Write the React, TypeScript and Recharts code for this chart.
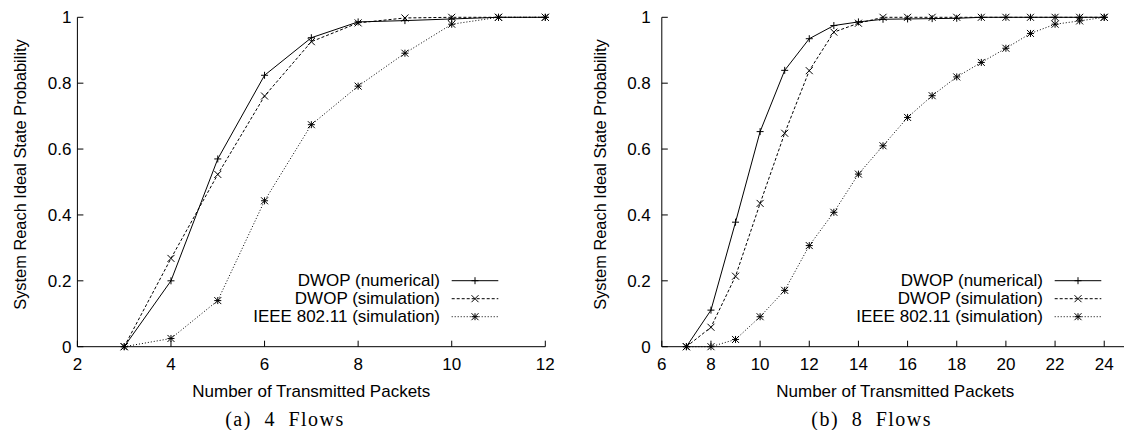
import React from 'react';
import { LineChart, Line, XAxis, YAxis, Legend } from 'recharts';

// (a) 4 flows
const flows4X = [3, 4, 5, 6, 7, 8, 9, 10, 11, 12];
const flows4Numerical = [0, 0.2, 0.57, 0.824, 0.938, 0.986, 0.99, 0.995, 1, 1];
const flows4Simulation = [0, 0.268, 0.523, 0.761, 0.926, 0.983, 0.998, 1, 1, 1];
const flows4Ieee = [0, 0.025, 0.14, 0.443, 0.674, 0.791, 0.891, 0.979, 1, 1];
const flows4Ticks = [2, 4, 6, 8, 10, 12];

// (b) 8 flows
const flows8X = [7, 8, 9, 10, 11, 12, 13, 14, 15, 16, 17, 18, 19, 20, 21, 22, 23, 24];
const flows8Numerical = [0, 0.111, 0.378, 0.653, 0.839, 0.935, 0.975, 0.986, 0.994, 0.995, 0.996, 0.997, 1, 1, 1, 1, 1, 1];
const flows8Simulation = [0, 0.059, 0.214, 0.435, 0.648, 0.838, 0.955, 0.982, 1, 1, 1, 1, 1, 1, 1, 1, 1, 1];
const flows8Ieee = [0, 0, 0.022, 0.091, 0.171, 0.307, 0.408, 0.524, 0.61, 0.696, 0.762, 0.819, 0.863, 0.906, 0.951, 0.979, 0.989, 1];
const flows8Ticks = [6, 8, 10, 12, 14, 16, 18, 20, 22, 24];

const seriesNames = ['DWOP (numerical)', 'DWOP (simulation)', 'IEEE 802.11 (simulation)'];
const yTicks = [0, 0.2, 0.4, 0.6, 0.8, 1];

const SANS = '"Liberation Sans", Arial, Helvetica, sans-serif';
const SERIF = '"Liberation Serif", "Times New Roman", serif';

const styles = [
  { dash: undefined, marker: 'plus' },
  { dash: '3 2', marker: 'cross' },
  { dash: '1 2', marker: 'star' },
];

const markerPath = (kind: string, cx: number, cy: number, s = 3.5) => {
  const plus = `M${cx - s},${cy}H${cx + s}M${cx},${cy - s}V${cy + s}`;
  const cross = `M${cx - s},${cy - s}L${cx + s},${cy + s}M${cx - s},${cy + s}L${cx + s},${cy - s}`;
  if (kind === 'plus') return plus;
  if (kind === 'cross') return cross;
  return plus + cross;
};

const makeDot = (kind: string) => (p: any) => {
  if (p.cx == null || p.cy == null) return <g key={`${kind}-${p.index}`} />;
  return (
    <path
      key={`${kind}-${p.index}`}
      d={markerPath(kind, p.cx, p.cy)}
      stroke="#000"
      strokeWidth={1}
      fill="none"
    />
  );
};

// legend text is right-aligned at x=220 inside its own box
const LegendBox = ({ payload }: any) => (
  <svg width={300} height={56} style={{ display: 'block' }}>
    {(payload || []).map((entry: any, i: number) => {
      const y = 10.7 + i * 18;
      return (
        <g key={entry.value}>
          <text x={220} y={y} textAnchor="end" dominantBaseline="central" fontSize={17} fontFamily={SANS} fill="#000">
            {entry.value}
          </text>
          <line x1={231.7} x2={278.3} y1={y} y2={y} stroke="#000" strokeWidth={1} strokeDasharray={styles[i].dash} />
          <path d={markerPath(styles[i].marker, 255, y)} stroke="#000" strokeWidth={1} fill="none" />
        </g>
      );
    })}
  </svg>
);

type PanelProps = {
  xs: number[];
  series: number[][];
  xTicks: number[];
  xDomain: [number, number];
  width: number;
  yAxisWidth: number;
  marginRight: number;
  yTickMargin: number;
  yLabelX: number;
  xLabelX: number;
  caption: string;
  captionX: number;
  legendLeft: number;
};

const Panel = (props: PanelProps) => {
  const { xs, series, xTicks, xDomain, width } = props;
  const data = series.map((vals) => vals.map((v, i) => ({ x: xs[i], y: v })));
  const axisTick = { fill: '#000', fontSize: 17, fontFamily: SANS };
  return (
    <LineChart
      width={width}
      height={430}
      margin={{ top: 17.3, right: props.marginRight, left: 0, bottom: 0 }}
    >
      <XAxis
        dataKey="x"
        type="number"
        domain={xDomain}
        ticks={xTicks}
        height={83.3}
        tickSize={-6}
        tickMargin={17.3}
        tick={axisTick}
        stroke="#000"
        allowDuplicatedCategory={false}
      />
      <XAxis
        xAxisId="top"
        orientation="top"
        type="number"
        domain={xDomain}
        ticks={xTicks}
        height={0}
        tickSize={-6}
        tick={false}
        stroke="#000"
      />
      <YAxis
        type="number"
        domain={[0, 1]}
        ticks={yTicks}
        width={props.yAxisWidth}
        tickSize={-6}
        tickMargin={props.yTickMargin}
        tick={axisTick}
        tickFormatter={(v) => `${v}`}
        stroke="#000"
      />
      <YAxis
        yAxisId="right"
        orientation="right"
        type="number"
        domain={[0, 1]}
        ticks={yTicks}
        width={0}
        tickSize={-6}
        tick={false}
        stroke="#000"
      />
      {data.map((d, i) => (
        <Line
          key={seriesNames[i]}
          data={d}
          dataKey="y"
          name={seriesNames[i]}
          type="linear"
          stroke="#000"
          strokeWidth={1}
          strokeDasharray={styles[i].dash}
          dot={makeDot(styles[i].marker)}
          activeDot={false}
          isAnimationActive={false}
        />
      ))}
      <Legend
        layout="vertical"
        align="center"
        verticalAlign="middle"
        content={<LegendBox />}
        wrapperStyle={{ left: props.legendLeft, top: 270, width: 300, height: 56 }}
      />
      <text
        x={props.yLabelX}
        y={174.5}
        transform={`rotate(-90 ${props.yLabelX} 174.5)`}
        textAnchor="middle"
        fontSize={16.4}
        fontFamily={SANS}
        fill="#000"
      >
        System Reach Ideal State Probability
      </text>
      <text x={props.xLabelX} y={397} textAnchor="middle" fontSize={17} fontFamily={SANS} fill="#000">
        Number of Transmitted Packets
      </text>
      <text
        x={props.captionX}
        y={426}
        textAnchor="middle"
        fontSize={20}
        fontFamily={SERIF}
        letterSpacing={1.5}
        wordSpacing={6}
        fill="#000"
      >
        {props.caption}
      </text>
    </LineChart>
  );
};

export default function App() {
  return (
    <div
      style={{
        position: 'absolute',
        left: 0,
        top: 0,
        width: 1124,
        height: 430,
        overflow: 'hidden',
        background: '#fff',
      }}
    >
      <div style={{ position: 'absolute', left: 0, top: 0 }}>
        <Panel
          xs={flows4X}
          series={[flows4Numerical, flows4Simulation, flows4Ieee]}
          xTicks={flows4Ticks}
          xDomain={[2, 12]}
          width={560}
          yAxisWidth={77.4}
          marginRight={14.7}
          yTickMargin={12}
          yLabelX={26}
          xLabelX={311.3}
          caption="(a) 4 Flows"
          captionX={285}
          legendLeft={220}
        />
      </div>
      <div style={{ position: 'absolute', left: 560, top: 0 }}>
        <Panel
          xs={flows8X}
          series={[flows8Numerical, flows8Simulation, flows8Ieee]}
          xTicks={flows8Ticks}
          xDomain={[6, 25]}
          width={580}
          yAxisWidth={101.8}
          marginRight={11.2}
          yTickMargin={17}
          yLabelX={46}
          xLabelX={335.3}
          caption="(b) 8 Flows"
          captionX={311.7}
          legendLeft={263}
        />
      </div>
    </div>
  );
}
